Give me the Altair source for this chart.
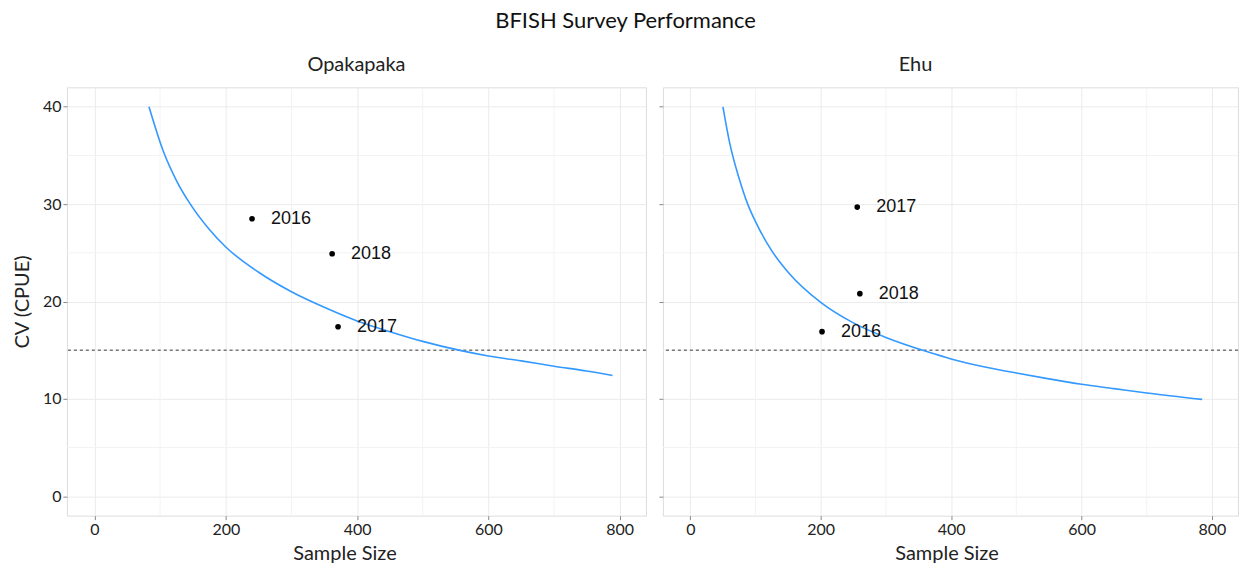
import altair as alt
import pandas as pd

# ---- data ----
opa_curve_n = [83, 105, 125, 147, 175, 200, 250, 300, 350, 400, 450, 500, 555, 600, 650, 700, 750, 789]
opa_curve_cv = [40, 35.4, 32.4, 29.9, 27.4, 25.6, 23.0, 21.0, 19.4, 18.0, 16.9, 15.9, 15.0, 14.4, 13.9, 13.35, 12.85, 12.4]
opa_years = ["2016", "2018", "2017"]
opa_n = [240, 362, 371]
opa_cv = [28.5, 24.9, 17.4]

ehu_curve_n = [50, 60, 75, 88, 100, 125, 150, 200, 250, 300, 365, 400, 450, 500, 550, 600, 650, 700, 785]
ehu_curve_cv = [40, 36.4, 32.6, 30.0, 28.2, 25.2, 23.0, 19.9, 17.8, 16.3, 14.8, 14.1, 13.3, 12.65, 12.05, 11.5, 11.05, 10.6, 9.94]
ehu_years = ["2017", "2018", "2016"]
ehu_n = [256, 260, 202]
ehu_cv = [29.7, 20.8, 16.9]

target_cv = [15]
minor_x = [100, 300, 500, 700]
minor_y = [5, 15, 25, 35]
x_ticks = [0, 200, 400, 600, 800]
y_ticks = [0, 10, 20, 30, 40]

FONT = "Lato"
LABEL_FONT = "Liberation Sans"
PANEL_H = 429


def panel(title, title_dx, cn, ccv, yrs, pn, pcv, show_y, width, xtitle_shift):
    curve = pd.DataFrame({"n": cn, "cv": ccv})
    pts = pd.DataFrame({"year": yrs, "n": pn, "cv": pcv})

    xscale = alt.Scale(domain=[-42, 840], nice=False, zero=False)
    yscale = alt.Scale(domain=[-2, 42], nice=False, zero=False)
    xaxis = alt.Axis(values=x_ticks, grid=True, gridColor="#ebebeb", domain=False,
                     tickColor="#888888", tickSize=4, labelFont=FONT, labelFontSize=16,
                     labelColor="#222222", labelPadding=2, title="Sample Size",
                     titleFont=FONT, titleFontSize=20, titleFontWeight="normal",
                     titleColor="#222222", titlePadding=6, titleX=width / 2 + xtitle_shift)
    if show_y:
        yaxis = alt.Axis(values=y_ticks, grid=True, gridColor="#ebebeb", domain=False,
                         tickColor="#888888", tickSize=4, labelFont=FONT, labelFontSize=16,
                         labelColor="#222222", labelPadding=2, title="CV (CPUE)",
                         titleFont=FONT, titleFontSize=20, titleFontWeight="normal",
                         titleColor="#222222", titlePadding=10)
    else:
        yaxis = alt.Axis(values=y_ticks, grid=True, gridColor="#ebebeb", domain=False,
                         tickColor="#888888", tickSize=4, labels=False, title=None)

    X = lambda f: alt.X(f, type="quantitative", scale=xscale, axis=xaxis)
    Y = lambda f: alt.Y(f, type="quantitative", scale=yscale, axis=yaxis)

    gx = alt.Chart(pd.DataFrame({"g": minor_x})).mark_rule(color="#f3f3f3", strokeWidth=1).encode(x=X("g"))
    gy = alt.Chart(pd.DataFrame({"g": minor_y})).mark_rule(color="#f3f3f3", strokeWidth=1).encode(y=Y("g"))
    dash = alt.Chart(pd.DataFrame({"t": target_cv})).mark_rule(
        color="#777777", strokeWidth=1.5, strokeDash=[3, 3]).encode(y=Y("t"))
    line = alt.Chart(curve).mark_line(color="#3399ff", strokeWidth=1.6, interpolate="monotone").encode(
        x=X("n"), y=Y("cv"))
    dots = alt.Chart(pts).mark_circle(color="black", opacity=1, size=32).encode(x=X("n"), y=Y("cv"))
    labels = alt.Chart(pts).mark_text(align="left", baseline="middle", dx=19, font=LABEL_FONT,
                                      fontSize=18, color="#111111").encode(
        x=X("n"), y=Y("cv"), text="year:N")

    return alt.layer(gx, gy, dash, line, dots, labels).properties(
        width=width, height=PANEL_H,
        title=alt.TitleParams(title, font=FONT, fontSize=20, fontWeight="normal",
                              color="#222222", offset=12, dx=title_dx))


left = panel("Opakapaka", 0, opa_curve_n, opa_curve_cv, opa_years, opa_n, opa_cv, True, 580, -12)
right = panel("Ehu", -35, ehu_curve_n, ehu_curve_cv, ehu_years, ehu_n, ehu_cv, False, 576, -4)

chart = alt.hconcat(left, right, spacing=10).properties(
    title=alt.TitleParams("BFISH Survey Performance", font=FONT, fontSize=22, fontWeight="normal",
                          color="#111111", anchor="middle", offset=21),
    padding={"left": 3, "top": 2, "right": 0, "bottom": 0},
).configure_view(stroke="#aaaaaa", strokeWidth=1.3).configure(background="white")

chart.save("out.html", embed_options={"renderer": "svg", "actions": False})
